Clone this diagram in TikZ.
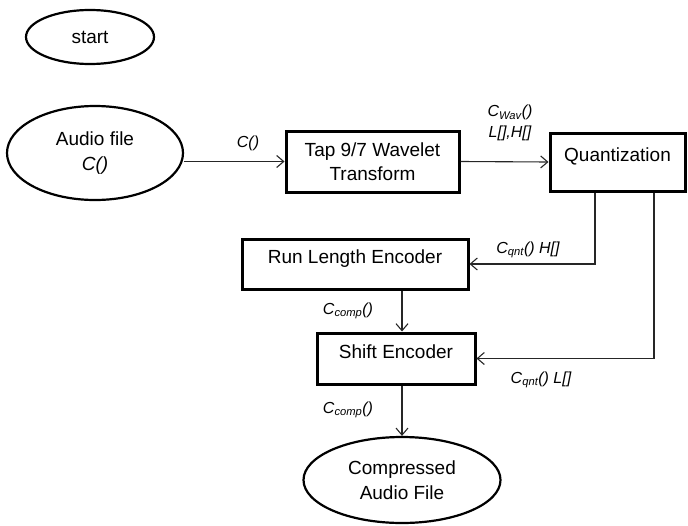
\documentclass[tikz,border=0pt]{standalone}
\usepackage{fontspec}
\setmainfont{Liberation Sans}
\usetikzlibrary{shapes.geometric, arrows.meta, positioning}

\begin{document}
\begin{tikzpicture}[x=1pt, y=-1pt,
    box/.style={rectangle, draw, line width=3pt, align=center, inner sep=0pt, font=\fontsize{19}{24}\selectfont},
    topbox/.style={box, text depth=14pt},
    oval/.style={ellipse, draw, line width=2.2pt, align=center, inner sep=0pt, font=\fontsize{19}{25}\selectfont},
    arr/.style={draw=black!85, line width=1.1pt, -{Straight Barb[length=7pt, width=12pt]}},
    lbl/.style={font=\fontsize{16}{21}\selectfont\itshape, align=center, inner sep=0pt}
]
\useasboundingbox (0,0) rectangle (688,525);

% Start and input
\node[oval, minimum width=128pt, minimum height=54pt] (start) at (90,37) {start};
\node[oval, minimum width=176pt, minimum height=94pt] (audio) at (95,153) {Audio file\\\textit{C()}};

% Processing blocks
\node[box, minimum width=173pt, minimum height=61pt] (wavelet) at (372.5,161.5) {Tap 9/7 Wavelet\\Transform};
\node[topbox, minimum width=135pt, minimum height=58pt] (quant) at (617.5,162) {Quantization};
\node[topbox, minimum width=226pt, minimum height=50pt] (runlen) at (355,264) {Run Length Encoder};
\node[topbox, minimum width=158pt, minimum height=51pt] (shift) at (396,358.5) {Shift Encoder};

% Output
\node[oval, minimum width=197pt, minimum height=86pt] (comp) at (402,480) {Compressed\\Audio File};

% Connectors
\draw[arr] (audio.east |- wavelet.west) -- (wavelet.west);
\draw[arr] (wavelet.east) -- (quant.west);
\draw[arr] ([xshift=-22.5pt]quant.south) |- (runlen.east);
\draw[arr] ([xshift=36.5pt]quant.south) |- (shift.east);
\draw[arr] (runlen.south -| comp.north) -- (shift.north -| comp.north);
\draw[arr] (shift.south -| comp.north) -- (comp.north);

% Labels
\node[lbl] (lblc) at (248,143) {C()};
\node[lbl] (lblwav) at (510,123) {C\textsubscript{Wav}()\\L[],H[]};
\node[lbl] (lblh) at (528,250) {C\textsubscript{qnt}() H[]};
\node[lbl] (lbll) at (541,380) {C\textsubscript{qnt}() L[]};
\node[lbl] (lblcomp) at (348,311) {C\textsubscript{comp}()};
\node[lbl] (lblcompout) at (348,410) {C\textsubscript{comp}()};

\end{tikzpicture}
\end{document}
